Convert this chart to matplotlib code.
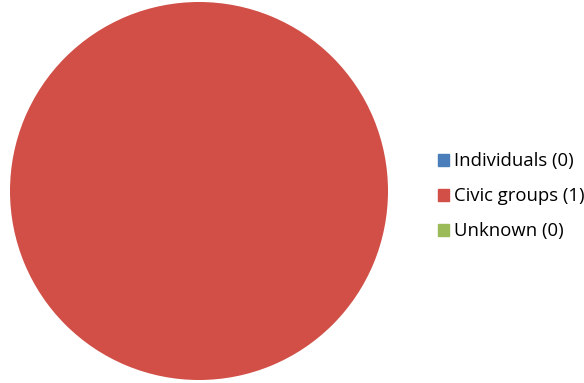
import matplotlib.pyplot as plt
import matplotlib.patches as mpatches

# Data
categories = ["Individuals", "Civic groups", "Unknown"]
counts = [0, 1, 0]
colors = ["#4A7EBB", "#D14F47", "#9BBB59"]

labels = [f"{c} ({n})" for c, n in zip(categories, counts)]

fig = plt.figure(figsize=(5.84, 3.83), dpi=100)
ax = fig.add_axes([7 / 584, 3 / 383, 384 / 584, 378 / 383])

ax.pie(counts, colors=colors, startangle=90, counterclock=False,
       wedgeprops=dict(linewidth=0), frame=False)
ax.set_xlim(-1, 1)
ax.set_ylim(-1, 1)
ax.set_aspect("equal")
ax.axis("off")

handles = [mpatches.Patch(color=c) for c in colors]
fig.legend(handles, labels, loc="center left", bbox_to_anchor=(431 / 584, 0.487),
           frameon=False, handlelength=0.55, handleheight=0.55,
           handletextpad=0.3, labelspacing=0.92, borderaxespad=0,
           prop={"family": "Open Sans", "size": 13.3})

fig.savefig("out.png", dpi=100)
